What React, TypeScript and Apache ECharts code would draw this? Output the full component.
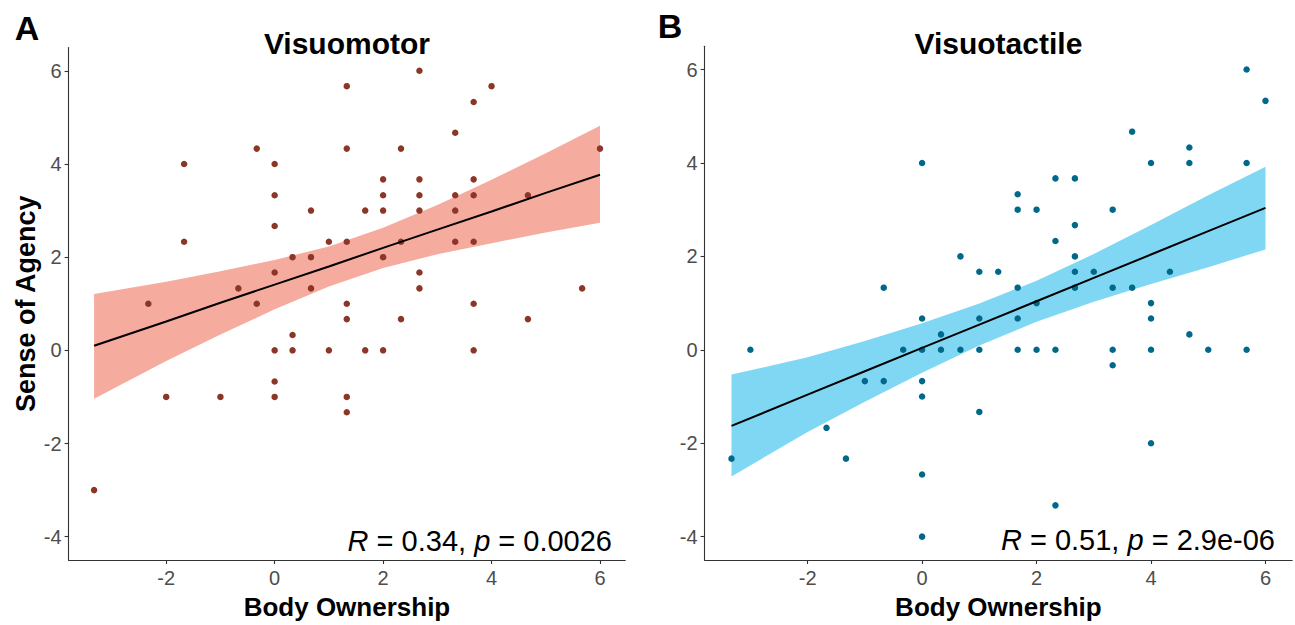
import React, { useEffect, useRef } from "react";
import * as echarts from "echarts";

const FONT = "'Liberation Sans', Arial, sans-serif";

const xTicks = [-2, 0, 2, 4, 6];
const yTicks = [-4, -2, 0, 2, 4, 6];

const panelTitles = ["Visuomotor", "Visuotactile"];
const panelLetters = ["A", "B"];
const xAxisTitle = "Body Ownership";
const yAxisTitle = "Sense of Agency";

// Visuomotor (panel A) points
const motorX = [1.33, -0.33, 1.33, -1.67, 0, 0, 0.67, 0, -1.67, 1, 1.33, 0.33, 0.67, 0, -0.67, 0.67, -2.33, -0.33, 1.33, 2.67, 4, 3.67, 3.33, 2.33, 6, 2, 2.67, 3.67, 2, 2.67, 3.33, 3.67, 4.67, 1.67, 2, 2.67, 3.33, 2.33, 3.33, 3.67, 2, 2.67, 2.67, 5.67, 3.67, 1.33, 0.33, 0, 0.33, 1, 0, -2, -1, 0, 1.33, 1.33, -3.33, 2.33, 4.67, 1.67, 2, 3.67];
const motorY = [5.67, 4.33, 4.33, 4, 4, 3.33, 3, 2.67, 2.33, 2.33, 2.33, 2, 2, 1.67, 1.33, 1.33, 1, 1, 1, 6, 5.67, 5.33, 4.67, 4.33, 4.33, 3.67, 3.67, 3.67, 3.33, 3.33, 3.33, 3.33, 3.33, 3, 3, 3, 3, 2.33, 2.33, 2.33, 2, 1.67, 1.33, 1.33, 1, 0.67, 0.33, 0, 0, 0, -0.67, -1, -1, -1, -1, -1.33, -3, 0.67, 0.67, 0, 0, 0];

// Visuotactile (panel B) points
const tactileX = [0, 0.67, 1, -0.67, 5.67, 6, 3.67, 4.67, 4, 4.67, 5.67, 2.33, 2.67, 1.67, 1.67, 2, 3.33, 2.67, 2.33, 2.67, 1.33, 2.67, 3, 4.33, 1.67, 2.67, 3.33, 3.67, 2, 4, 0, 1, 0.33, -3, -0.33, 0, 0.33, 0.67, 1, -1, -0.67, 0, 0, 1, -1.67, -3.33, -1.33, 0, 0, 1.67, 4, 4.67, 1.67, 2, 2.33, 3.33, 4, 5, 5.67, 3.33, 4, 2.33];
const tactileY = [4, 2, 1.67, 1.33, 6, 5.33, 4.67, 4.33, 4, 4, 4, 3.67, 3.67, 3.33, 3, 3, 3, 2.67, 2.33, 2, 1.67, 1.67, 1.67, 1.67, 1.33, 1.33, 1.33, 1.33, 1, 1, 0.67, 0.67, 0.33, 0, 0, 0, 0, 0, 0, -0.67, -0.67, -0.67, -1, -1.33, -1.67, -2.33, -2.33, -2.67, -4, 0.67, 0.67, 0.33, 0, 0, 0, 0, 0, 0, 0, -0.33, -2, -3.33];

// Fit line and confidence band
const fitX = [-3.33, -2, -1, 0, 1, 2, 3, 4, 5, 6];
const motorFit = [0.10, 0.62, 1.02, 1.41, 1.80, 2.20, 2.59, 2.98, 3.38, 3.77];
const motorUpper = [1.21, 1.47, 1.70, 1.94, 2.23, 2.63, 3.12, 3.66, 4.23, 4.82];
const motorLower = [-1.04, -0.23, 0.34, 0.88, 1.37, 1.77, 2.06, 2.30, 2.53, 2.74];
const tactileFit = [-1.63, -0.96, -0.46, 0.04, 0.54, 1.04, 1.54, 2.04, 2.54, 3.04];
const tactileUpper = [-0.53, -0.16, 0.19, 0.57, 0.99, 1.48, 2.05, 2.67, 3.31, 3.92];
const tactileLower = [-2.71, -1.76, -1.11, -0.49, 0.09, 0.60, 1.03, 1.41, 1.77, 2.15];

const statLabels = [
  { r: "0.34", p: "0.0026" },
  { r: "0.51", p: "2.9e-06" },
];

const pointColors = ["#8B3626", "#00688B"];
const bandColors = ["#F5AB9D", "#80D7F4"];

const grids = [
  { left: 68.6, top: 47.5, width: 556.7, height: 517 },
  { left: 704.6, top: 46.2, width: 587.6, height: 517 },
];

function bandSeries(idx: number, xs: number[], lo: number[], hi: number[], color: string) {
  return {
    type: "custom",
    xAxisIndex: idx,
    yAxisIndex: idx,
    silent: true,
    data: xs.map((x, i) => [x, lo[i], hi[i]]),
    encode: { x: 0, y: [1, 2] },
    renderItem: (params: any, api: any) => {
      if (params.dataIndex !== 0) return null;
      const top = xs.map((x, i) => api.coord([x, hi[i]]));
      const bot = xs.map((x, i) => api.coord([x, lo[i]])).reverse();
      return {
        type: "polygon",
        shape: { points: top.concat(bot) },
        style: { fill: color, stroke: null },
        silent: true,
      };
    },
  };
}

function axisCommon(ticks: number[], margin: number) {
  return {
    type: "value",
    axisLine: { show: true, onZero: false, lineStyle: { color: "#333333", width: 1.1 } },
    axisTick: { show: true, length: 4, customValues: ticks, lineStyle: { color: "#333333", width: 1.1 } },
    axisLabel: { customValues: ticks, color: "#4D4D4D", fontSize: 20, fontFamily: FONT, margin },
    splitLine: { show: false },
  };
}

export default function App() {
  const ref = useRef<HTMLDivElement>(null);

  useEffect(() => {
    if (!ref.current) return;
    const chart = echarts.init(ref.current, undefined, { renderer: "svg" });

    const panels = [
      { xs: motorX, ys: motorY, fit: motorFit, up: motorUpper, lo: motorLower },
      { xs: tactileX, ys: tactileY, fit: tactileFit, up: tactileUpper, lo: tactileLower },
    ];

    const series: any[] = [];
    panels.forEach((p, i) => {
      series.push(bandSeries(i, fitX, p.lo, p.up, bandColors[i]));
      series.push({
        type: "scatter",
        xAxisIndex: i,
        yAxisIndex: i,
        symbolSize: 6.5,
        itemStyle: { color: pointColors[i], opacity: 1 },
        data: p.xs.map((x, k) => [x, p.ys[k]]),
        silent: true,
      });
      series.push({
        type: "line",
        xAxisIndex: i,
        yAxisIndex: i,
        symbol: "none",
        lineStyle: { color: "#000000", width: 2 },
        data: fitX.map((x, k) => [x, p.fit[k]]),
        silent: true,
      });
    });

    const xAxes = grids.map((g, i) => ({
      ...axisCommon(xTicks, 8),
      gridIndex: i,
      min: -3.8,
      max: 6.4667,
      name: xAxisTitle,
      nameLocation: "middle",
      nameGap: 34,
      nameTextStyle: { fontSize: 26, fontWeight: "bold", color: "#000000", fontFamily: FONT },
    }));

    const yAxes = grids.map((g, i) => ({
      ...axisCommon(yTicks, 7),
      gridIndex: i,
      min: -4.5,
      max: 6.5,
      name: i === 0 ? yAxisTitle : "",
      nameLocation: "middle",
      nameGap: 25,
      nameTextStyle: { fontSize: 27, fontWeight: "bold", color: "#000000", fontFamily: FONT },
    }));

    const graphics: any[] = [];
    grids.forEach((g, i) => {
      const cx = g.left + g.width / 2;
      graphics.push({
        type: "text",
        x: cx,
        y: 43,
        style: {
          text: panelTitles[i],
          font: `bold 30px ${FONT}`,
          fill: "#000000",
          textAlign: "center",
          textVerticalAlign: "middle",
          align: "center",
          verticalAlign: "middle",
        },
      });
      graphics.push({
        type: "text",
        x: i === 0 ? 27 : 670,
        y: i === 0 ? 28 : 26,
        style: {
          text: panelLetters[i],
          font: `bold 34px ${FONT}`,
          fill: "#000000",
          textAlign: "center",
          textVerticalAlign: "middle",
          align: "center",
          verticalAlign: "middle",
        },
      });
      const s = statLabels[i];
      graphics.push({
        type: "text",
        x: i === 0 ? 612 : 1275,
        y: i === 0 ? 541 : 540,
        style: {
          text: `{i|R}{n| = ${s.r}, }{i|p}{n| = ${s.p}}`,
          textAlign: "right",
          textVerticalAlign: "middle",
          align: "right",
          verticalAlign: "middle",
          rich: {
            i: { fontStyle: "italic", fontSize: 29, fontFamily: FONT, fill: "#000000", color: "#000000" },
            n: { fontSize: 29, fontFamily: FONT, fill: "#000000", color: "#000000" },
          },
        },
      });
    });

    chart.setOption({
      animation: false,
      backgroundColor: "#FFFFFF",
      grid: grids,
      xAxis: xAxes,
      yAxis: yAxes,
      series,
      graphic: graphics,
    });

    return () => chart.dispose();
  }, []);

  return (
    <div
      ref={ref}
      style={{ position: "absolute", left: 0, top: 0, width: 1295, height: 625 }}
    />
  );
}
